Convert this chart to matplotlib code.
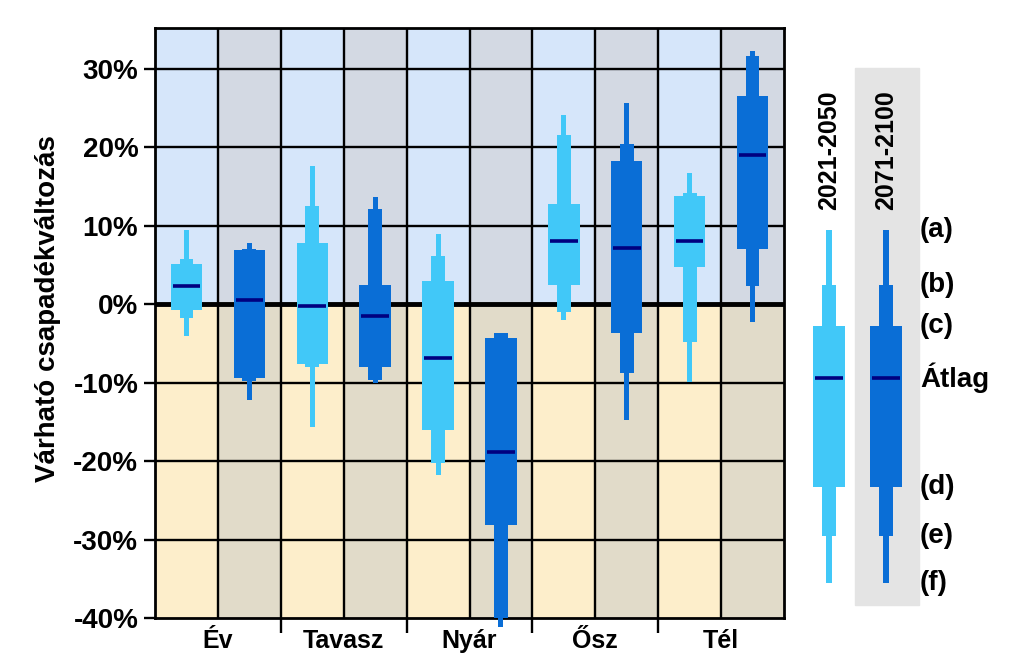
import numpy as np
import matplotlib
matplotlib.use("Agg")
import matplotlib.pyplot as plt
from matplotlib.patches import Rectangle

plt.rcParams['font.family'] = ['Liberation Sans', 'DejaVu Sans']
plt.rcParams['font.weight'] = 'bold'

seasons = ["Év", "Tavasz", "Nyár", "Ősz", "Tél"]

# 2021-2050: (a) (b) (c) mean (d) (e) (f)
near_a = [9.5, 17.6, 8.9, 24.1, 16.7]
near_b = [5.7, 12.5, 6.2, 21.6, 14.2]
near_c = [5.1, 7.8, 3.0, 12.8, 13.8]
near_mean = [2.3, -0.2, -6.9, 8.0, 8.0]
near_d = [-0.8, -7.6, -16.0, 2.4, 4.8]
near_e = [-1.8, -8.0, -20.3, -1.0, -4.8]
near_f = [-4.0, -15.6, -21.8, -2.0, -9.9]

# 2071-2100
far_a = [7.8, 13.7, -3.7, 25.6, 32.3]
far_b = [7.0, 12.1, -3.7, 20.4, 31.6]
far_c = [6.9, 2.4, -4.3, 18.2, 26.5]
far_mean = [0.5, -1.5, -18.9, 7.2, 19.0]
far_d = [-9.4, -8.0, -28.2, -3.7, 7.0]
far_e = [-9.8, -9.7, -40.0, -8.8, 2.3]
far_f = [-12.2, -10.1, -41.2, -14.7, -2.3]

# legend example bar (same scale as axis, purely illustrative)
leg_levels = [9.4, 2.4, -2.8, -9.4, -23.3, -29.5, -35.6]
leg_labels = ["(a)", "(b)", "(c)", "Átlag", "(d)", "(e)", "(f)"]
periods = ["2021-2050", "2071-2100"]

light = "#41C8F8"
dark = "#0A6ED6"
navy = "#000080"
ymin, ymax = -40, 35.2


def draw_box(ax, x, a, b, c, m, d, e, f, color):
    ax.bar(x, a - f, bottom=f, width=0.08, color=color, zorder=3, clip_on=False)
    ax.bar(x, b - e, bottom=e, width=0.22, color=color, zorder=3, clip_on=False)
    ax.bar(x, c - d, bottom=d, width=0.5, color=color, zorder=3, clip_on=False)
    ax.plot([x - 0.22, x + 0.22], [m, m], color=navy, lw=2.6, zorder=4,
            solid_capstyle='butt')


fig = plt.figure(figsize=(10.24, 6.69), dpi=100)
ax = fig.add_axes([155 / 1024, 51 / 669, 629 / 1024, 590 / 669])

# background cells
for i in range(10):
    up = "#D6E6FA" if i % 2 == 0 else "#D3D9E3"
    down = "#FDEECB" if i % 2 == 0 else "#E1DBC9"
    ax.bar(i + 0.5, ymax, bottom=0, width=1, color=up, zorder=0)
    ax.bar(i + 0.5, -ymin, bottom=ymin, width=1, color=down, zorder=0)

for y in [-30, -20, -10, 10, 20, 30]:
    ax.axhline(y, color="black", lw=1.7, zorder=1)
for x in range(1, 10):
    ax.axvline(x, color="black", lw=1.7, zorder=1)
ax.axhline(0, color="black", lw=3.5, zorder=2)

for s in range(5):
    draw_box(ax, 2 * s + 0.5, near_a[s], near_b[s], near_c[s], near_mean[s],
             near_d[s], near_e[s], near_f[s], light)
    draw_box(ax, 2 * s + 1.5, far_a[s], far_b[s], far_c[s], far_mean[s],
             far_d[s], far_e[s], far_f[s], dark)

ax.set_xlim(0, 10)
ax.set_ylim(ymin, ymax)
ax.set_yticks(range(-40, 31, 10))
ax.set_yticklabels([f"{v}%" for v in range(-40, 31, 10)], fontsize=20)
ax.tick_params(axis='y', length=8, width=1.7, pad=4)
ax.set_xticks([2, 4, 6, 8])
ax.set_xticklabels([])
ax.tick_params(axis='x', length=11, width=1.7)
ax.set_xticks([1, 3, 5, 7, 9], minor=True)
ax.set_xticklabels(seasons, minor=True, fontsize=18)
ax.tick_params(axis='x', which='minor', length=0, pad=8)
for sp in ax.spines.values():
    sp.set_linewidth(2)
ax.set_ylabel("Várható csapadékváltozás", fontsize=20, fontweight='bold')
ax.yaxis.set_label_coords(-0.15, 0.524)

# legend panel
ax2 = fig.add_axes([790 / 1024, 51 / 669, 234 / 1024, 590 / 669])
ax2.set_xlim(0, 234 / 63)
ax2.set_ylim(ymin, ymax)
ax2.axis('off')
ax2.add_patch(Rectangle((65 / 63, -38.4), 64 / 63, 68.5, color="#E4E4E4", zorder=0))
draw_box(ax2, 39 / 63, *leg_levels, light)
draw_box(ax2, 96 / 63, *leg_levels, dark)
for lab, y in zip(leg_labels, leg_levels):
    ax2.text(130 / 63, y, lab, fontsize=20, ha='left', va='center')
for x, p in zip([39 / 63, 96 / 63], periods):
    ax2.text(x, 12.0, p, rotation=90, fontsize=18, ha='center', va='bottom')

plt.savefig("out.png")
